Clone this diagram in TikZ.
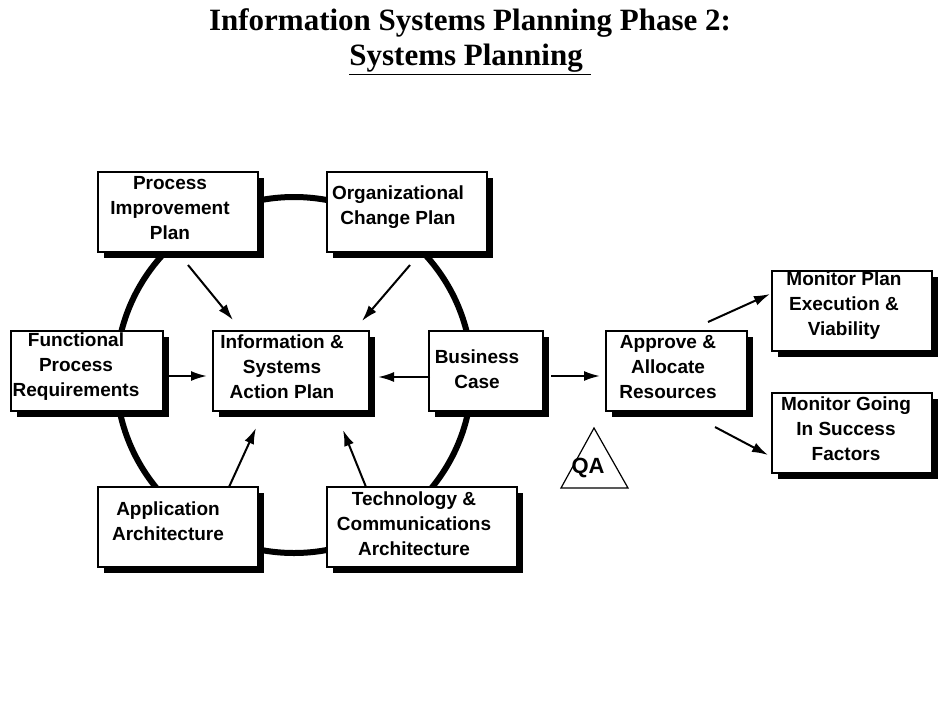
\documentclass[tikz,border=0pt]{standalone}
\usepackage{fontspec}
\setmainfont{Liberation Serif}
\setsansfont{Liberation Sans}
\usetikzlibrary{arrows.meta}
\begin{document}
\begin{tikzpicture}[x=1pt,y=-1pt,
 lbl/.style={font=\sffamily\bfseries\fontsize{19}{25}\selectfont,align=center,inner sep=0},
 arr/.style={line width=2pt,-{Latex[length=16pt,width=10pt]}}]
\useasboundingbox (0,0) rectangle (950,713);
\node[font=\bfseries\fontsize{31}{35}\selectfont,align=center] (t) at (470,42) {Information Systems Planning Phase 2:\\\underline{Systems Planning\ }};
\draw[line width=6pt] (294,375) ellipse [x radius=178,y radius=178];
\def\bx#1#2#3#4#5{\fill (#2+6,#3+6) rectangle (#4+6,#5+6);
 \draw[fill=white,line width=1.5pt] (#2,#3) rectangle (#4,#5);
 \coordinate (#1) at ({(#2+#4)/2},{(#3+#5)/2});}
\bx{pip}{98}{172}{258}{252}
\bx{ocp}{327}{172}{487}{252}
\bx{fpr}{11}{331}{163}{411}
\bx{isa}{213}{331}{369}{411}
\bx{bc}{429}{331}{543}{411}
\bx{aar}{606}{331}{747}{411}
\bx{mpe}{772}{271}{932}{351}
\bx{mgi}{772}{393}{932}{473}
\bx{aa}{98}{487}{258}{567}
\bx{tca}{327}{487}{517}{567}
\node[lbl] (n1) at (170,208) {Process\\Improvement\\Plan};
\node[lbl] (n2) at (398,207) {Organizational\\Change Plan};
\node[lbl] (n3) at (76,367) {Functional\\Process\\Requirements};
\node[lbl] (n4) at (282,367) {Information \&\\Systems\\Action Plan};
\node[lbl] (n5) at (477,369) {Business\\Case};
\node[lbl] (n6) at (668,367) {Approve \&\\Allocate\\Resources};
\node[lbl] (n7) at (844,306) {Monitor Plan\\Execution \&\\Viability};
\node[lbl] (n8) at (846,429) {Monitor Going\\In Success\\Factors};
\node[lbl] (n9) at (168,521) {Application\\Architecture};
\node[lbl] (n10) at (414,524) {Technology \&\\Communications\\Architecture};
\draw[line width=1.2pt] (594,428) -- (628,488) -- (561,488) -- cycle;
\node[font=\sffamily\bfseries\fontsize{22}{26}\selectfont] (qa) at (588,468) {QA};
\coordinate (a1) at (188,265); \coordinate (b1) at (233,320);
\coordinate (a2) at (410,265); \coordinate (b2) at (362,321);
\coordinate (a3) at (165,376); \coordinate (b3) at (207,376);
\coordinate (a4) at (430,377); \coordinate (b4) at (378,377);
\coordinate (a5) at (551,376); \coordinate (b5) at (600,376);
\coordinate (a6) at (229,487); \coordinate (b6) at (256,428);
\coordinate (a7) at (366,487); \coordinate (b7) at (343,430);
\coordinate (a8) at (708,322); \coordinate (b8) at (770,294);
\coordinate (a9) at (715,427); \coordinate (b9) at (768,455);
\foreach \i in {1,...,9} \draw[arr] (a\i) -- (b\i);
\end{tikzpicture}
\end{document}
